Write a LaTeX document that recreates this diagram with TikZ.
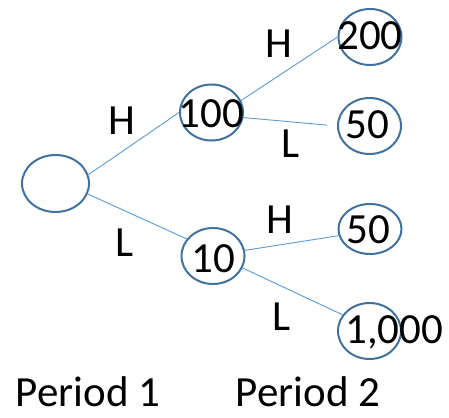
\documentclass[tikz,border=0pt]{standalone}
\usepackage{fontspec}
\setmainfont{Carlito}
\usetikzlibrary{shapes.geometric}
\definecolor{ellcol}{HTML}{41719C}
\definecolor{linecol}{HTML}{5B9BD5}
\begin{document}
\begin{tikzpicture}[x=1pt,y=-1pt,
  ell/.style={draw=ellcol,line width=2pt,ellipse,inner sep=0pt,minimum width=63pt,minimum height=56pt},
  conn/.style={draw=linecol,line width=0.9pt},
  txt/.style={font=\fontsize{43}{50}\selectfont,inner sep=0pt,anchor=base,text=black}]
\useasboundingbox[fill=white] (0,0) rectangle (449,417);
% ellipses
\node[ell,minimum width=67pt,minimum height=57pt] (root) at (55.5,183.5) {};
\node[ell] (n100) at (211.5,112.5) {};
\node[ell] (n10) at (213,256) {};
\node[ell] (n200) at (370,37) {};
\node[ell] (n50a) at (369.5,126) {};
\node[ell,minimum height=50pt] (n50b) at (370,229) {};
\node[ell] (n1000) at (369.5,331) {};
% connectors
\draw[conn] (root.15) -- (n100.west);
\draw[conn] (root.-18) -- (n10.147);
\draw[conn] (n100.22) -- (n200.west);
\draw[conn,shorten >=10pt] (n100.-9) -- (n50a.west);
\draw[conn] (n10.10) -- (n50b.192);
\draw[conn] (n10.-22) -- (n1000.149);
% node texts
\node[txt] (t100) at (211.5,127) {100};
\node[txt] (t10) at (213,272) {10};
\node[txt] (t200) at (370,50) {200};
\node[txt] (t50a) at (367,138) {50};
\node[txt] (t50b) at (368,243) {50};
\node[txt,anchor=base west] (t1000) at (345,343) {1,000};
% branch labels
\node[txt] (h1) at (121.5,134) {H};
\node[txt] (l1) at (125,256) {L};
\node[txt] (h2) at (278.5,58) {H};
\node[txt] (l2) at (291,157) {L};
\node[txt] (h3) at (280,233) {H};
\node[txt] (l3) at (282,330) {L};
% period labels
\node[txt] (p1) at (88,406) {Period 1};
\node[txt] (p2) at (308,406) {Period 2};
\end{tikzpicture}
\end{document}
